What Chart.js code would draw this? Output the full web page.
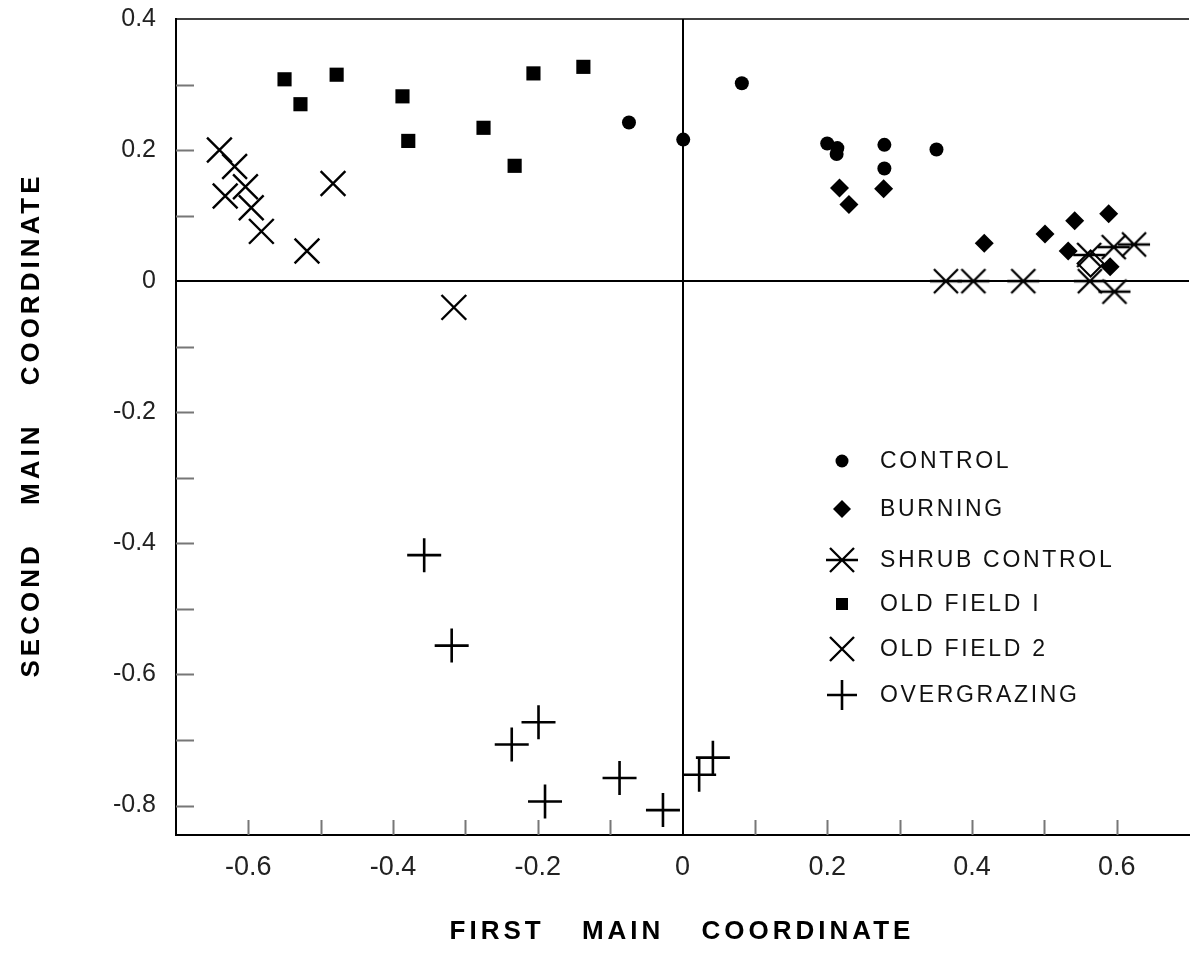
<!DOCTYPE html>
<html>
<head>
<meta charset="utf-8">
<script src="https://cdn.jsdelivr.net/npm/chart.js@4/dist/chart.umd.min.js"></script>
<style>
  html, body { margin: 0; padding: 0; background: #fff; }
  #wrap { width: 1193px; height: 957px; }
</style>
</head>
<body>
<div id="wrap"><canvas id="c" width="1193" height="957"></canvas></div>
<script>
// ---- data ----
const controlX = [-0.074, 0.001, 0.082, 0.200, 0.214, 0.213, 0.279, 0.279, 0.351];
const controlY = [0.242, 0.216, 0.302, 0.210, 0.203, 0.194, 0.208, 0.172, 0.201];

const burningX = [0.217, 0.230, 0.278, 0.417, 0.501, 0.542, 0.533, 0.589, 0.591];
const burningY = [0.142, 0.117, 0.141, 0.058, 0.072, 0.092, 0.046, 0.103, 0.022];

const shrubX = [0.364, 0.402, 0.471, 0.563, 0.597, 0.562, 0.596, 0.624];
const shrubY = [0.000, 0.000, 0.000, 0.000, -0.016, 0.040, 0.052, 0.056];

const oldField1X = [-0.550, -0.528, -0.478, -0.387, -0.379, -0.275, -0.232, -0.206, -0.137];
const oldField1Y = [0.308, 0.270, 0.315, 0.282, 0.214, 0.234, 0.176, 0.317, 0.327];

const oldField2X = [-0.640, -0.619, -0.604, -0.632, -0.596, -0.582, -0.519, -0.483, -0.316];
const oldField2Y = [0.200, 0.175, 0.144, 0.130, 0.112, 0.076, 0.046, 0.149, -0.040];

const overgrazingX = [-0.357, -0.319, -0.199, -0.236, -0.190, -0.087, -0.027, 0.023, 0.042];
const overgrazingY = [-0.418, -0.556, -0.673, -0.707, -0.794, -0.758, -0.807, -0.753, -0.727];

const openDiamondX = [0.564];
const openDiamondY = [0.027];

const seriesLabels = ['CONTROL', 'BURNING', 'SHRUB CONTROL', 'OLD FIELD I', 'OLD FIELD 2', 'OVERGRAZING'];

const xTickValues = [-0.6, -0.4, -0.2, 0, 0.2, 0.4, 0.6];
const xTickLabels = ['-0.6', '-0.4', '-0.2', '0', '0.2', '0.4', '0.6'];
const yTickValues = [-0.8, -0.6, -0.4, -0.2, 0, 0.2, 0.4];
const yTickLabels = ['-0.8', '-0.6', '-0.4', '-0.2', '0', '0.2', '0.4'];
const xMinorTicks = [-0.6, -0.5, -0.4, -0.3, -0.2, -0.1, 0.1, 0.2, 0.3, 0.4, 0.5, 0.6];
const yMinorTicks = [-0.8, -0.7, -0.6, -0.5, -0.4, -0.3, -0.2, -0.1, 0.1, 0.2, 0.3];

const xTitle = 'FIRST MAIN COORDINATE';
const yTitle = 'SECOND MAIN COORDINATE';

// ---- helpers ----
function pts(xs, ys) { return xs.map((x, i) => ({ x: x, y: ys[i] })); }

function makeShrubMarker() {
  const c = document.createElement('canvas');
  c.width = 34; c.height = 28;
  const g = c.getContext('2d');
  g.strokeStyle = '#000';
  g.lineWidth = 2.3;
  g.lineCap = 'butt';
  g.beginPath();
  g.moveTo(5, 2); g.lineTo(29, 26);
  g.moveTo(29, 2); g.lineTo(5, 26);
  g.moveTo(1, 14); g.lineTo(33, 14);
  g.stroke();
  return c;
}
const shrubMarker = makeShrubMarker();

const styles = [
  { pointStyle: 'circle', radius: 7, bg: '#000', bw: 0 },
  { pointStyle: 'rectRot', radius: 9.5, bg: '#000', bw: 0 },
  { pointStyle: shrubMarker, radius: 12, bg: '#000', bw: 0 },
  { pointStyle: 'rect', radius: 10, bg: '#000', bw: 0 },
  { pointStyle: 'crossRot', radius: 17.5, bg: '#000', bw: 2.4 },
  { pointStyle: 'cross', radius: 17, bg: '#000', bw: 2.6 }
];

const seriesData = [
  pts(controlX, controlY), pts(burningX, burningY), pts(shrubX, shrubY),
  pts(oldField1X, oldField1Y), pts(oldField2X, oldField2Y), pts(overgrazingX, overgrazingY)
];

const datasets = seriesLabels.map((lab, i) => ({
  label: lab,
  data: seriesData[i],
  pointStyle: styles[i].pointStyle,
  pointRadius: styles[i].radius,
  pointBackgroundColor: styles[i].bg,
  pointBorderColor: '#000',
  pointBorderWidth: styles[i].bw,
  showLine: false
}));
datasets.push({
  label: '',
  data: pts(openDiamondX, openDiamondY),
  pointStyle: 'rectRot',
  pointRadius: 13,
  pointBackgroundColor: 'rgba(0,0,0,0)',
  pointBorderColor: '#000',
  pointBorderWidth: 2,
  showLine: false
});

const decorPlugin = {
  id: 'decor',
  beforeDatasetsDraw(chart) {
    const { ctx, chartArea: a, scales: { x, y } } = chart;
    ctx.save();
    ctx.strokeStyle = '#777';
    ctx.lineWidth = 2;
    ctx.beginPath();
    yMinorTicks.forEach(v => {
      const py = Math.round(y.getPixelForValue(v)) + 0.5;
      ctx.moveTo(a.left, py); ctx.lineTo(a.left + 18, py);
    });
    xMinorTicks.forEach(v => {
      const px = Math.round(x.getPixelForValue(v)) + 0.5;
      ctx.moveTo(px, a.bottom); ctx.lineTo(px, a.bottom - 15);
    });
    ctx.stroke();
    ctx.strokeStyle = '#000';
    ctx.lineWidth = 1.5;
    ctx.beginPath();
    ctx.moveTo(a.left, a.top); ctx.lineTo(a.right, a.top);
    ctx.stroke();
    ctx.restore();
  },
  afterDraw(chart) {
    const { ctx } = chart;
    ctx.save();
    // legend
    const lx = 842, tx = 880;
    const ly = [461, 509, 560, 604, 649, 695];
    seriesLabels.forEach((lab, i) => {
      const s = styles[i];
      ctx.fillStyle = '#000';
      ctx.strokeStyle = '#000';
      ctx.lineWidth = s.bw || 1;
      let r = s.radius;
      if (i === 0) r = 6.5;
      if (i === 1) r = 9;
      if (i === 3) r = 8.5;
      if (i === 4) r = 17;
      if (i === 5) r = 15;
      Chart.helpers.drawPoint(ctx, { pointStyle: s.pointStyle, radius: r, rotation: 0, borderWidth: s.bw }, lx, ly[i]);
    });
    ctx.font = '23px "Liberation Sans", Arial, sans-serif';
    ctx.letterSpacing = '2.7px';
    ctx.textAlign = 'left';
    ctx.textBaseline = 'middle';
    ctx.fillStyle = '#111';
    seriesLabels.forEach((lab, i) => ctx.fillText(lab, tx, ly[i] + 1));
    // axis titles
    ctx.font = 'bold 26px "Liberation Sans", Arial, sans-serif';
    ctx.letterSpacing = '4px';
    try { ctx.wordSpacing = '26px'; } catch (e) {}
    ctx.fillStyle = '#000';
    ctx.textAlign = 'center';
    ctx.textBaseline = 'middle';
    ctx.fillText(xTitle, 682, 932);
    ctx.translate(32, 425);
    ctx.rotate(-Math.PI / 2);
    ctx.fillText(yTitle, 0, 0);
    ctx.restore();
  }
};

new Chart(document.getElementById('c'), {
  type: 'scatter',
  data: { datasets: datasets },
  options: {
    responsive: false,
    animation: false,
    events: [],
    layout: { autoPadding: false, padding: { top: 19, right: 4, left: 0, bottom: 0 } },
    plugins: { legend: { display: false }, tooltip: { enabled: false }, title: { display: false } },
    scales: {
      x: {
        type: 'linear',
        min: -0.7, max: 0.7,
        afterBuildTicks(scale) { scale.ticks = xTickValues.map(v => ({ value: v })); },
        afterFit(scale) { scale.height = 122; scale.paddingLeft = 0; scale.paddingRight = 0; },
        ticks: {
          callback: (v, i) => xTickLabels[i],
          color: '#222',
          padding: 16,
          maxRotation: 0,
          autoSkip: false,
          font: { family: '"Liberation Sans Narrow", "Liberation Sans", Arial, sans-serif', size: 27 }
        },
        grid: {
          drawTicks: false,
          lineWidth: 2,
          color: ctx => (ctx.tick && ctx.tick.value === 0 ? '#000' : 'rgba(0,0,0,0)')
        },
        border: { display: true, color: '#000', width: 2 }
      },
      y: {
        type: 'linear',
        min: -0.845, max: 0.4,
        afterBuildTicks(scale) { scale.ticks = yTickValues.map(v => ({ value: v })); },
        afterFit(scale) { scale.width = 176; scale.paddingTop = 0; scale.paddingBottom = 0; },
        ticks: {
          callback: (v, i) => yTickLabels[i],
          color: '#222',
          padding: 20,
          autoSkip: false,
          font: { family: '"Liberation Sans", Arial, sans-serif', size: 25 }
        },
        grid: {
          drawTicks: false,
          lineWidth: 2,
          color: ctx => (ctx.tick && ctx.tick.value === 0 ? '#000' : 'rgba(0,0,0,0)')
        },
        border: { display: true, color: '#000', width: 2 }
      }
    }
  },
  plugins: [decorPlugin]
});
</script>
</body>
</html>
